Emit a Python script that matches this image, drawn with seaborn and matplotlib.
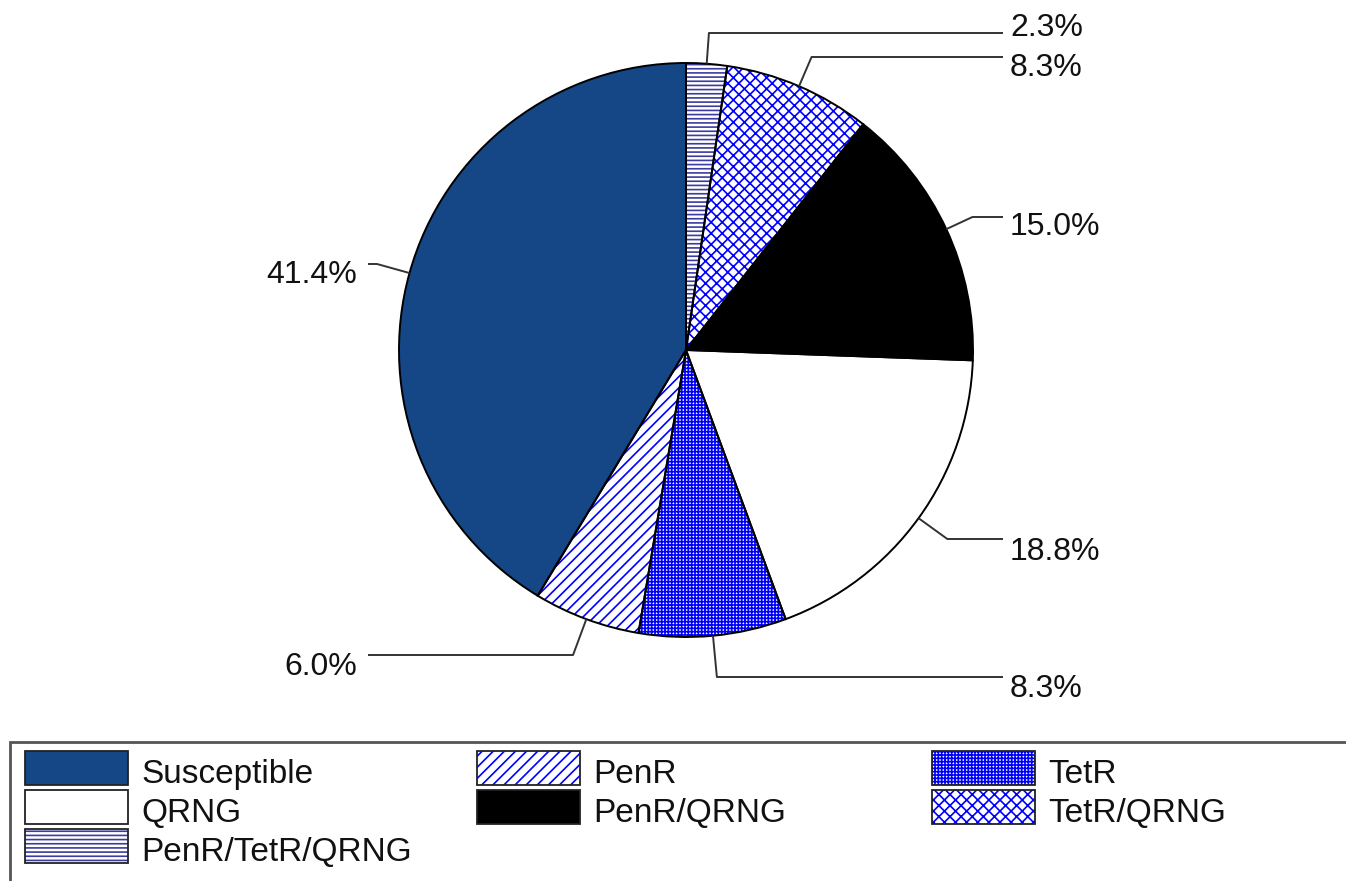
import numpy as np
import matplotlib
matplotlib.use("Agg")
import matplotlib.pyplot as plt
from matplotlib.patches import Rectangle
import seaborn as sns

# wedges, clockwise from 12 o'clock
categories = ["PenR/TetR/QRNG", "TetR/QRNG", "PenR/QRNG", "QRNG", "TetR", "PenR", "Susceptible"]
shares = [2.3, 8.3, 15.0, 18.8, 8.3, 6.0, 41.4]

# legend reads column by column
legend_order = ["Susceptible", "QRNG", "PenR/TetR/QRNG", "PenR", "PenR/QRNG", "TetR", "TetR/QRNG"]

# label layout (pixels from top), same order as wedges
line_y = [33, 57, 217, 539, 677, 655, 264]
text_base = [36, 76, 235, 560, 697, 675, 283]

BLUE = "#0000ff"
# face, hatch, hatch colour
style = {
    "Susceptible": ("#154686", None, "#154686"),
    "QRNG": ("white", None, "white"),
    "PenR/QRNG": ("black", None, "black"),
    "PenR": ("white", "///", BLUE),
    "TetR": ("white", "+++++", BLUE),
    "TetR/QRNG": ("white", "xxx", BLUE),
    "PenR/TetR/QRNG": ("white", "----", "#3c3ca0"),
}

W, H = 1346, 881
sns.set_theme(style="white")
plt.rcParams["font.family"] = ["Liberation Sans", "DejaVu Sans"]
plt.rcParams["hatch.linewidth"] = 1.2

fig = plt.figure(figsize=(W / 100, H / 100), dpi=100)
ax = fig.add_axes([0, 0, 1, 1])

cx, cy, R = 686, 350, 287   # centre in pixels from top

wedges, _ = ax.pie(shares, colors=[style[c][0] for c in categories],
                   startangle=90, counterclock=False,
                   center=(cx, H - cy), radius=R,
                   wedgeprops=dict(linewidth=0))
for w, c in zip(wedges, categories):
    face, hatch, hc = style[c]
    w.set_edgecolor(hc)
    w.set_linewidth(0)
    if hatch:
        w.set_hatch(hatch)

# black outlines on top
ax.pie(shares, startangle=90, counterclock=False,
       center=(cx, H - cy), radius=R,
       wedgeprops=dict(fill=False, edgecolor="black", linewidth=1.4))

# leader lines + percentage labels
for i, (w, s) in enumerate(zip(wedges, shares)):
    a = np.deg2rad((w.theta1 + w.theta2) / 2)
    x0, y0 = cx + R * np.cos(a), cy - R * np.sin(a)
    r1 = (cy - line_y[i]) / np.sin(a)
    x1 = cx + r1 * np.cos(a)
    right = np.cos(a) > 0
    x2 = 1003 if right else 368
    ax.plot([x0, x1, x2], [H - y0, H - line_y[i], H - line_y[i]],
            color="#333333", lw=1.4, solid_capstyle="butt")
    ax.text(1010 if right else 357, H - text_base[i], f"{s:.1f}%",
            ha="left" if right else "right", va="baseline",
            fontsize=23, color="#111111")

# legend, drawn by hand so it matches the boxed layout
ax.add_patch(Rectangle((10, -20), 1400, H - 742 + 20, fill=False,
                       edgecolor="#555555", lw=2))
col_x = [25, 477, 932]
row_y = [751, 790, 829]
pw, ph = 103, 34
for k, c in enumerate(legend_order):
    col = 0 if k < 3 else 1 + (k - 3) // 2
    row = k if k < 3 else (k - 3) % 2
    x, y = col_x[col], row_y[row]
    face, hatch, hc = style[c]
    ax.add_patch(Rectangle((x, H - y - ph), pw, ph, facecolor=face,
                           edgecolor=hc, lw=0, hatch=hatch))
    ax.add_patch(Rectangle((x, H - y - ph), pw, ph, fill=False,
                           edgecolor="#222222", lw=1.3))
    ax.text(x + pw + 13, H - (y + 32), c, ha="left", va="baseline",
            fontsize=24, color="#111111")

ax.set_xlim(0, W)
ax.set_ylim(0, H)
ax.set_aspect("auto")
ax.axis("off")

fig.savefig("out.png", dpi=100, facecolor="white")
